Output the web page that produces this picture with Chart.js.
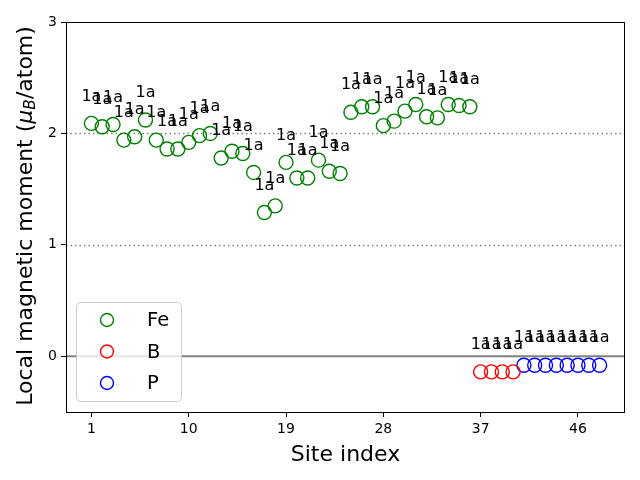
<!DOCTYPE html>
<html>
<head>
<meta charset="utf-8">
<script src="https://cdn.jsdelivr.net/npm/chart.js@4.4.0/dist/chart.umd.min.js"></script>
<style>
  html, body { margin: 0; padding: 0; background: #fff; }
  #wrap { width: 640px; height: 480px; }
</style>
</head>
<body>
<div id="wrap"><canvas id="myChart" width="640" height="480"></canvas></div>
<script>
/////////////////////////////
// Data
/////////////////////////////

// Fe sites 1..36
const feMoments = [
  2.09, 2.06, 2.08, 1.94, 1.97, 2.12, 1.94, 1.86, 1.86, 1.92,
  1.98, 2.00, 1.78, 1.84, 1.82, 1.65, 1.29, 1.35, 1.74, 1.60,
  1.60, 1.76, 1.66, 1.64, 2.19, 2.24, 2.24, 2.07, 2.11, 2.20,
  2.26, 2.15, 2.14, 2.26, 2.25, 2.24
];
// B sites 37..40
const bMoments = [-0.14, -0.14, -0.14, -0.14];
// P sites 41..48
const pMoments = [-0.08, -0.08, -0.08, -0.08, -0.08, -0.08, -0.08, -0.08];

const feFirstSite = 1;
const bFirstSite = 37;
const pFirstSite = 41;

const siteLabel = '1a';
const xTicks = [1, 10, 19, 28, 37, 46];
const yTicks = [0, 1, 2, 3];
const dottedLevels = [1, 2];
const solidLevels = [0];

const FONT = "'DejaVu Sans', sans-serif";

function toPoints(values, first) {
  return values.map((v, i) => ({ x: first + i, y: v }));
}

/////////////////////////////
// Plugins
/////////////////////////////

// horizontal reference lines (behind points)
const refLines = {
  id: 'refLines',
  beforeDatasetsDraw(chart) {
    const { ctx, chartArea: a, scales: { y } } = chart;
    ctx.save();
    ctx.strokeStyle = '#808080';
    ctx.lineWidth = 1.5;
    ctx.setLineDash([1.5, 3]);
    dottedLevels.forEach(v => {
      const py = Math.round(y.getPixelForValue(v)) + 0.5;
      ctx.beginPath(); ctx.moveTo(a.left, py); ctx.lineTo(a.right, py); ctx.stroke();
    });
    ctx.setLineDash([]);
    ctx.lineWidth = 2;
    solidLevels.forEach(v => {
      const py = y.getPixelForValue(v);
      ctx.beginPath(); ctx.moveTo(a.left, py); ctx.lineTo(a.right, py); ctx.stroke();
    });
    ctx.restore();
  }
};

// "1a" above every point
const siteLabels = {
  id: 'siteLabels',
  afterDatasetsDraw(chart) {
    const { ctx } = chart;
    ctx.save();
    ctx.fillStyle = '#000';
    ctx.font = '16px ' + FONT;
    ctx.textAlign = 'center';
    ctx.textBaseline = 'middle';
    chart.data.datasets.forEach((ds, i) => {
      chart.getDatasetMeta(i).data.forEach(el => {
        ctx.fillText(siteLabel, el.x, el.y - 27);
      });
    });
    ctx.restore();
  }
};

// axes box, legend, y title
const decorations = {
  id: 'decorations',
  afterDraw(chart) {
    const { ctx, chartArea: a } = chart;
    ctx.save();

    // frame
    ctx.strokeStyle = '#000';
    ctx.lineWidth = 1;
    ctx.strokeRect(Math.round(a.left) + 0.5, Math.round(a.top) + 0.5,
                   Math.round(a.right - a.left) - 1, Math.round(a.bottom - a.top));

    // legend
    const bx = a.left + 10, bw = 105, bh = 99;
    const by = a.bottom - 11 - bh;
    ctx.beginPath();
    ctx.roundRect(bx + 0.5, by + 0.5, bw, bh, 4);
    ctx.fillStyle = 'rgba(255,255,255,0.8)';
    ctx.fill();
    ctx.strokeStyle = '#cccccc';
    ctx.lineWidth = 1;
    ctx.stroke();
    ctx.font = '19.5px ' + FONT;
    ctx.textAlign = 'left';
    ctx.textBaseline = 'middle';
    chart.data.datasets.forEach((ds, i) => {
      const ry = by + 18 + i * 31.5;
      ctx.beginPath();
      ctx.arc(bx + 31, ry, 6.5, 0, Math.PI * 2);
      ctx.strokeStyle = ds.borderColor;
      ctx.lineWidth = 1.4;
      ctx.stroke();
      ctx.fillStyle = '#000';
      ctx.fillText(ds.label, bx + 71, ry + 1);
    });

    // y title with subscript
    const parts = [
      { t: 'Local magnetic moment (', f: '22px ' + FONT, dy: 0 },
      { t: '\u03bc', f: 'oblique 22px ' + FONT, dy: 0 },
      { t: 'B', f: 'oblique 15.4px ' + FONT, dy: 4.5 },
      { t: '/atom)', f: '22px ' + FONT, dy: 0 }
    ];
    let total = 0;
    parts.forEach(p => { ctx.font = p.f; p.w = ctx.measureText(p.t).width; total += p.w; });
    ctx.translate(26, (a.top + a.bottom) / 2 - 1);
    ctx.rotate(-Math.PI / 2);
    ctx.fillStyle = '#000';
    ctx.textAlign = 'left';
    ctx.textBaseline = 'middle';
    let px = -total / 2;
    parts.forEach(p => {
      ctx.font = p.f;
      ctx.fillText(p.t, px, p.dy);
      px += p.w;
    });
    ctx.restore();
  }
};

/////////////////////////////
// Chart
/////////////////////////////

const ctx = document.getElementById('myChart').getContext('2d');
const myChart = new Chart(ctx, {
  type: 'scatter',
  data: {
    datasets: [
      { label: 'Fe', data: toPoints(feMoments, feFirstSite), borderColor: '#008000' },
      { label: 'B', data: toPoints(bMoments, bFirstSite), borderColor: '#ff0000' },
      { label: 'P', data: toPoints(pMoments, pFirstSite), borderColor: '#0000ff' }
    ].map(ds => Object.assign(ds, {
      backgroundColor: 'rgba(0,0,0,0)',
      pointRadius: 7,
      pointHoverRadius: 7,
      borderWidth: 1.4
    }))
  },
  options: {
    responsive: false,
    animation: false,
    devicePixelRatio: 1,
    layout: { padding: { top: 22, right: 15, left: 0, bottom: 0 } },
    plugins: { legend: { display: false }, tooltip: { enabled: false } },
    scales: {
      x: {
        type: 'linear',
        min: -1.35,
        max: 50.35,
        afterBuildTicks: s => { s.ticks = xTicks.map(v => ({ value: v })); },
        afterFit: s => { s.height = 68; },
        grid: { drawOnChartArea: false, tickLength: 5, tickColor: '#000' },
        border: { display: false },
        ticks: { color: '#000', font: { family: FONT, size: 14 }, padding: 4, maxRotation: 0 },
        title: {
          display: true, text: 'Site index', color: '#000',
          font: { family: FONT, size: 22, lineHeight: 1.2 },
          padding: { top: 0, bottom: 12 }
        }
      },
      y: {
        min: -0.5,
        max: 3,
        afterBuildTicks: s => { s.ticks = yTicks.map(v => ({ value: v })); },
        afterFit: s => { s.width = 66; },
        grid: { drawOnChartArea: false, tickLength: 5, tickColor: '#000' },
        border: { display: false },
        ticks: { color: '#000', font: { family: FONT, size: 14 }, padding: 4 }
      }
    }
  },
  plugins: [refLines, siteLabels, decorations]
});
</script>
</body>
</html>
